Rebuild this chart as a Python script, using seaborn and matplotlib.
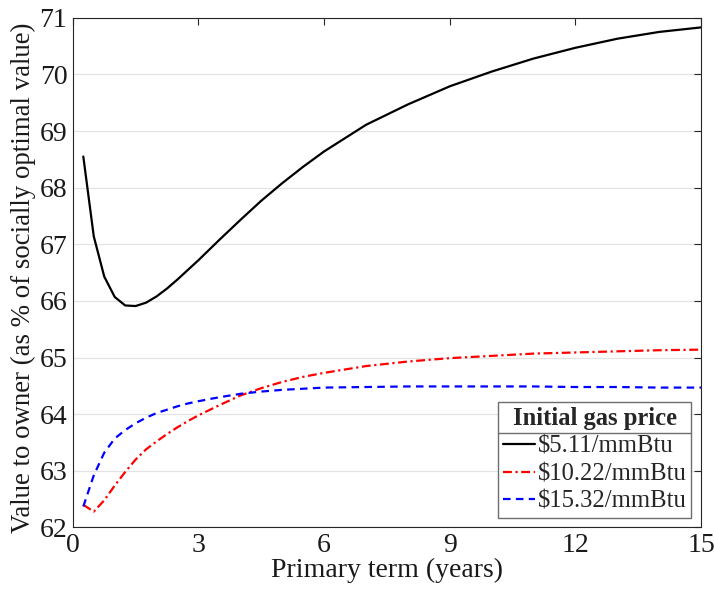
import numpy as np
import pandas as pd
import seaborn as sns
import matplotlib
matplotlib.use("Agg")
import matplotlib.pyplot as plt
from matplotlib.lines import Line2D

# ---- data ----
term = [0.25, 0.5, 0.75, 1.0, 1.25, 1.5, 1.75, 2.0, 2.25, 2.5, 2.75, 3.0,
        3.5, 4.0, 4.5, 5.0, 5.5, 6.0, 7, 8, 9, 10, 11, 12, 13, 14, 15]
price_511 = [68.55, 67.14, 66.43, 66.07, 65.92, 65.91, 65.97, 66.08, 66.22, 66.38,
             66.55, 66.72, 67.08, 67.43, 67.77, 68.08, 68.37, 68.64, 69.11, 69.47,
             69.79, 70.05, 70.28, 70.47, 70.63, 70.75, 70.83]
price_1022 = [62.40, 62.28, 62.48, 62.74, 62.98, 63.20, 63.38, 63.52, 63.65, 63.77,
              63.88, 63.98, 64.16, 64.33, 64.46, 64.57, 64.66, 64.73, 64.85, 64.93,
              64.99, 65.03, 65.07, 65.09, 65.11, 65.13, 65.14]
price_1532 = [62.37, 62.92, 63.32, 63.57, 63.72, 63.84, 63.94, 64.02, 64.08, 64.14,
              64.19, 64.23, 64.30, 64.36, 64.40, 64.43, 64.45, 64.47, 64.48, 64.49,
              64.49, 64.49, 64.49, 64.48, 64.48, 64.47, 64.47]
series_labels = ["\\$5.11/mmBtu", "\\$10.22/mmBtu", "\\$15.32/mmBtu"]
x_ticks = [0, 3, 6, 9, 12, 15]
y_ticks = [62, 63, 64, 65, 66, 67, 68, 69, 70, 71]

df = pd.DataFrame({
    "term": term * 3,
    "value": price_511 + price_1022 + price_1532,
    "price": [series_labels[0]] * len(term) + [series_labels[1]] * len(term)
             + [series_labels[2]] * len(term),
})

sns.set_style("white")
plt.rcParams["font.family"] = ["Liberation Serif", "DejaVu Serif"]
FS = 20
LFS = 17.7
plt.rcParams["font.size"] = FS

fig = plt.figure(figsize=(7.14, 5.92), dpi=100)
ax = fig.add_axes([0.102, 0.109, 0.880, 0.861])

colors = {series_labels[0]: "black", series_labels[1]: "#ff0000", series_labels[2]: "#0000ff"}
dashes = {series_labels[0]: "", series_labels[1]: (4, 1.6, 1, 1.6), series_labels[2]: (3.4, 2.4)}

sns.lineplot(data=df, x="term", y="value", hue="price", style="price",
             palette=colors, dashes=dashes, linewidth=1.6, ax=ax, legend=False,
             hue_order=series_labels, style_order=series_labels)

ax.set_xlim(0, 15)
ax.set_ylim(62, 71)
ax.set_xticks(x_ticks)
ax.set_yticks(y_ticks)
ax.yaxis.grid(True, color="#e3e3e3", linewidth=0.9)
ax.xaxis.grid(False)
ax.set_axisbelow(True)
for s in ax.spines.values():
    s.set_visible(True)
    s.set_color("#262626")
    s.set_linewidth(0.8)
ax.tick_params(direction="in", length=5, width=0.8, color="#262626",
               top=True, right=True, labelsize=FS, labelcolor="#1a1a1a", pad=4)
ax.set_xlabel("Primary term (years)", fontsize=FS, color="#1a1a1a", labelpad=0)
ax.set_ylabel("Value to owner (as % of socially optimal value)", fontsize=19.4,
              color="#1a1a1a")
ax.yaxis.set_label_coords(-0.058, 0.49)

handles = [Line2D([], [], color="black", lw=1.6),
           Line2D([], [], color="#ff0000", lw=1.6, dashes=(4, 1.6, 1, 1.6)),
           Line2D([], [], color="#0000ff", lw=1.6, dashes=(3.4, 2.4))]
leg = ax.legend(handles, series_labels, title="Initial gas price", loc="lower right",
                fontsize=LFS, title_fontproperties={"weight": "bold", "size": LFS},
                frameon=True, fancybox=False, edgecolor="#6e6e6e", framealpha=1,
                borderaxespad=0.4, handlelength=1.3, handletextpad=0.12,
                borderpad=0.2, labelspacing=0.22)
leg.get_frame().set_linewidth(1.0)

fig.canvas.draw()
r = fig.canvas.get_renderer()
fb = leg.get_frame().get_window_extent(r)
tb = leg.get_title().get_window_extent(r)
first = leg.get_texts()[0].get_window_extent(r)
ysep = 0.5 * (tb.y0 + first.y1)
inv = fig.transFigure.inverted()
(x0, y0) = inv.transform((fb.x0, ysep))
(x1, _) = inv.transform((fb.x1, ysep))
fig.add_artist(Line2D([x0, x1], [y0, y0], color="#6e6e6e", lw=1.0))

fig.savefig("out.png", dpi=100)
